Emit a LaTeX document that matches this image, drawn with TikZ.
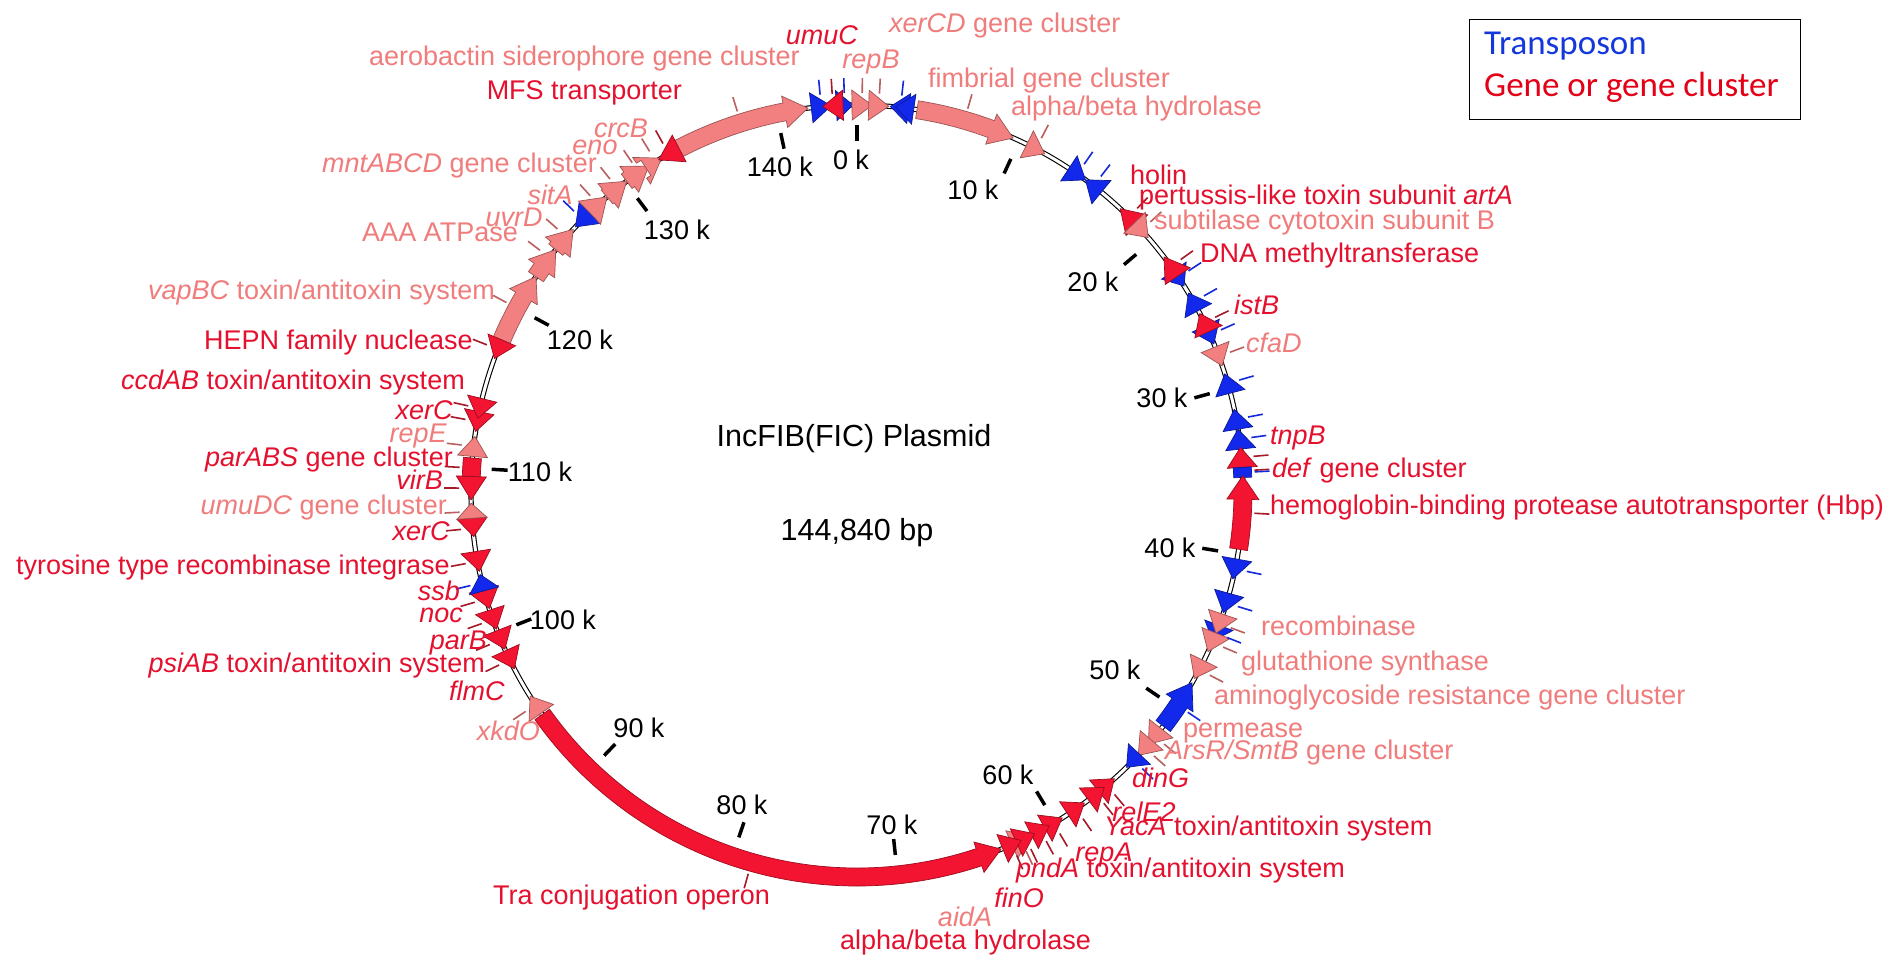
\documentclass[tikz,border=0pt]{standalone}
\usepackage{fontspec}
\setmainfont{Liberation Sans}
\newfontfamily\legfont{Carlito}
\definecolor{gred}{RGB}{242,20,48}
\definecolor{gsal}{RGB}{242,128,128}
\definecolor{gblue}{RGB}{18,40,235}
\definecolor{tred}{RGB}{228,16,46}
\definecolor{tsal}{RGB}{240,124,124}
\definecolor{pred}{RGB}{165,25,40}
\definecolor{psal}{RGB}{185,95,95}
\definecolor{pblue}{RGB}{20,40,220}
\definecolor{legblue}{RGB}{20,55,220}
\definecolor{legred}{RGB}{228,0,22}
\newcommand{\KB}{2.48550}
\newcommand{\garc}[3]{%
  \pgfmathsetmacro{\fTa}{-90+\KB*(#2)}%
  \pgfmathsetmacro{\fPa}{-90+\KB*(#3)}%
  \pgfmathsetmacro{\fHa}{\fPa+ifthenelse((#2)>(#3),3.5,-3.5)}%
  \filldraw[feat=#1] (\fTa:377) arc[start angle=\fTa,end angle=\fHa,radius=377] -- (\fHa:370) -- (\fPa:386) -- (\fHa:402) -- (\fHa:395) arc[start angle=\fHa,end angle=\fTa,radius=395] -- cycle;}
\newcommand{\gtri}[3]{%
  \pgfmathsetmacro{\fTa}{-90+\KB*(#2)}%
  \pgfmathsetmacro{\fPa}{-90+\KB*(#3)}%
  \filldraw[feat=#1] (\fTa:371) -- (\fPa:386) -- (\fTa:401) -- cycle;}
\newcommand{\gband}[3]{%
  \pgfmathsetmacro{\fTa}{-90+\KB*(#2)}%
  \pgfmathsetmacro{\fPa}{-90+\KB*(#3)}%
  \filldraw[feat=#1] (\fTa:377) arc[start angle=\fTa,end angle=\fPa,radius=377] -- (\fPa:395) arc[start angle=\fPa,end angle=\fTa,radius=395] -- cycle;}
\newcommand{\gptr}[2]{%
  \pgfmathsetmacro{\fMa}{-90+\KB*(#2)}%
  \draw[#1,line width=1.6pt] (\fMa:398) -- (\fMa:413);}
\newcommand{\gtick}[1]{%
  \pgfmathsetmacro{\fMa}{-90+\KB*(#1)}%
  \draw[line width=3.5pt] (\fMa:350) -- (\fMa:366);}
\tikzset{
  feat/.style={fill=#1, draw=#1!65!black, line width=0.7pt, line join=miter},
  lab/.style={font=\fontsize{27}{30}\selectfont, inner sep=0pt},
  tlab/.style={font=\fontsize{27}{30}\selectfont, inner sep=0pt, text=black},
}
\begin{document}
\begin{tikzpicture}[x=1pt,y=-1pt]
\fill[white] (0,0) rectangle (1901,979);
\useasboundingbox (0,0) rectangle (1901,979);
\begin{scope}[shift={(857,491)}]
  \draw[line width=1.1pt, double=white, double distance=3pt] (0,0) circle[radius=386];
  \foreach \k in {0,10,...,140} {\gtick{\k}}
  % top
  \garc{gsal}{133.6}{141.9}
  \gtri{gblue}{142.1}{143.3}
  \gtri{gblue}{143.6}{144.6}
  \gtri{gred}{144.0}{142.8}
  \gtri{gsal}{-0.3}{0.9}
  \gtri{gsal}{0.7}{1.9}
  \gtri{gblue}{3.1}{2.0}
  \gtri{gblue}{3.4}{2.3}
  \garc{gsal}{3.6}{9.6}
  \gtri{gsal}{10.5}{11.7}
  \gtri{gblue}{13.4}{14.6}
  \gtri{gblue}{15.8}{14.6}
  \gtri{gred}{18.7}{17.3}
  \gtri{gsal}{18.5}{19.7}
  \gtri{gblue}{22.2}{23.3}
  \gtri{gred}{22.6}{21.2}
  \gtri{gblue}{25.0}{23.8}
  \gtri{gblue}{26.0}{27.2}
  \gtri{gred}{26.4}{25.2}
  \gtri{gsal}{27.4}{28.6}
  \gtri{gblue}{30.3}{29.1}
  \gtri{gblue}{32.5}{31.3}
  \gtri{gblue}{33.7}{32.5}
  \gtri{gred}{34.8}{33.6}
  \gband{gblue}{34.8}{35.4}
  \garc{gred}{39.7}{35.3}
  \gtri{gblue}{40.3}{41.5}
  \gtri{gblue}{42.4}{43.6}
  \gtri{gblue}{44.4}{45.4}
  \gtri{gsal}{43.7}{44.9}
  \gtri{gsal}{44.9}{46.1}
  \gtri{gsal}{46.7}{47.9}
  \garc{gblue}{51.3}{48.2}
  \gtri{gsal}{51.5}{52.7}
  \gtri{gsal}{52.4}{53.6}
  \gtri{gblue}{53.5}{54.6}
  \gtri{gred}{56.8}{55.6}
  \gtri{gred}{57.6}{56.4}
  \gtri{gred}{59.1}{57.9}
  \gtri{gred}{60.7}{59.5}
  \gtri{gred}{61.6}{60.4}
  \gtri{gsal}{62.9}{61.7}
  \gtri{gred}{62.6}{61.4}
  \garc{gred}{94.4}{63.6}
  \gtri{gred}{63.5}{62.3}
  % left
  \gtri{gsal}{94.5}{95.7}
  \gtri{gred}{98.8}{97.6}
  \gtri{gred}{100.1}{98.9}
  \gtri{gred}{101.4}{100.2}
  \gtri{gred}{102.7}{101.5}
  \gtri{gblue}{102.6}{103.6}
  \gtri{gred}{105.0}{103.8}
  \gtri{gred}{107.0}{105.9}
  \gtri{gsal}{107.0}{107.9}
  \gtri{gred}{109.5}{108.1}
  \gband{gred}{109.5}{110.6}
  \gtri{gsal}{110.7}{111.9}
  \gtri{gred}{113.4}{112.2}
  \gtri{gred}{114.2}{113.0}
  \garc{gsal}{117.9}{122.2}
  \gtri{gred}{117.9}{116.7}
  \garc{gsal}{122.2}{124.2}
  \garc{gsal}{124.2}{125.8}
  \gtri{gblue}{127.2}{126.0}
  \garc{gsal}{127.2}{128.6}
  \garc{gsal}{128.6}{130.1}
  \garc{gsal}{130.1}{131.7}
  \garc{gsal}{131.5}{132.6}
  \gtri{gred}{133.8}{132.4}
  % pointers
  \foreach \p in {137.8,6.5,11.1,19.1,28.0,44.3,45.5,47.3,52.1,53.0,62.3,95.1,107.4,111.3,120.0,123.6,125.2,127.9,129.4,131.0,132.2,0.3,1.3} {\gptr{psal}{\p}}
  \foreach \p in {143.4,18.0,21.9,25.8,34.2,35.0,37.5,56.2,57.0,58.5,60.1,61.0,62.0,62.9,78.8,98.2,99.5,100.8,102.1,104.4,106.4,108.8,110.0,112.8,113.6,117.3,133.1} {\gptr{pred}{\p}}
  \foreach \p in {142.7,144.1,2.6,14.0,15.2,22.7,24.4,26.6,29.7,31.9,33.1,35.1,40.9,43.0,44.9,49.8,54.0,103.1,126.6} {\gptr{pblue}{\p}}
\end{scope}
% tick labels
\node[tlab] (k0) at (851,160) {0 k};
\node[tlab] (k10) at (973,190) {10 k};
\node[tlab] (k20) at (1093,282) {20 k};
\node[tlab] (k30) at (1162,398) {30 k};
\node[tlab] (k40) at (1170,548) {40 k};
\node[tlab] (k50) at (1115,670) {50 k};
\node[tlab] (k60) at (1008,775) {60 k};
\node[tlab] (k70) at (892,825) {70 k};
\node[tlab] (k80) at (742,805) {80 k};
\node[tlab] (k90) at (639,728) {90 k};
\node[tlab] (k100) at (563,620) {100 k};
\node[tlab] (k110) at (540,472) {110 k};
\node[tlab] (k120) at (580,340) {120 k};
\node[tlab] (k130) at (677,230) {130 k};
\node[tlab] (k140) at (780,167) {140 k};
% centre
\node[font=\fontsize{30.5}{34}\selectfont] (title) at (854,439) {IncFIB(FIC) Plasmid};
\node[font=\fontsize{30.5}{34}\selectfont] (size) at (857,533) {144,840 bp};
% labels top / left
\node[lab,text=tred] (Lumuc) at (822,35) {\textit{umuC}};
\node[lab,text=tsal,anchor=mid west] (Lxercd) at (889,30) {\textit{xerCD} gene cluster};
\node[lab,text=tsal,anchor=mid east] (Laero) at (800,63) {aerobactin siderophore gene cluster};
\node[lab,text=tsal] (Lrepb) at (871,62) {\textit{repB}};
\node[lab,text=tsal,anchor=mid west] (Lfimb) at (928,85) {fimbrial gene cluster};
\node[lab,text=tred,anchor=mid east] (Lmfs) at (682,97) {MFS transporter};
\node[lab,text=tsal] (Lcrcb) at (621,128) {\textit{crcB}};
\node[lab,text=tsal] (Leno) at (595,147) {\textit{eno}};
\node[lab,text=tsal,anchor=mid east] (Lmnt) at (597,170) {\textit{mntABCD} gene cluster};
\node[lab,text=tsal] (Lsita) at (550,195) {\textit{sitA}};
\node[lab,text=tsal] (Luvrd) at (514,217) {\textit{uvrD}};
\node[lab,text=tsal,anchor=mid east] (Laaa) at (518,239) {AAA ATPase};
\node[lab,text=tsal,anchor=mid east] (Lvap) at (495,297) {\textit{vapBC} toxin/antitoxin system};
\node[lab,text=tred,anchor=mid east] (Lhepn) at (473,347) {HEPN family nuclease};
\node[lab,text=tred,anchor=mid east] (Lccd) at (465,387) {\textit{ccdAB} toxin/antitoxin system};
\node[lab,text=tred,anchor=mid east] (Lxerc1) at (453,417) {\textit{xerC}};
\node[lab,text=tsal,anchor=mid east] (Lrepe) at (447,440) {\textit{repE}};
\node[lab,text=tred,anchor=mid east] (Lpar) at (453,464) {\textit{parABS} gene cluster};
\node[lab,text=tred,anchor=mid east] (Lvirb) at (443,487) {\textit{virB}};
\node[lab,text=tsal,anchor=mid east] (Lumudc) at (447,512) {\textit{umuDC} gene cluster};
\node[lab,text=tred,anchor=mid east] (Lxerc2) at (450,538) {\textit{xerC}};
\node[lab,text=tred,anchor=mid east] (Ltyr) at (450,572) {tyrosine type recombinase integrase};
\node[lab,text=tred,anchor=mid east] (Lssb) at (460,598) {\textit{ssb}};
\node[lab,text=tred,anchor=mid east] (Lnoc) at (463,620) {\textit{noc}};
\node[lab,text=tred,anchor=mid east] (Lparb) at (487,647) {\textit{parB}};
\node[lab,text=tred,anchor=mid east] (Lpsi) at (485,670) {\textit{psiAB} toxin/antitoxin system};
\node[lab,text=tred,anchor=mid east] (Lflmc) at (505,698) {\textit{flmC}};
\node[lab,text=tsal,anchor=mid east] (Lxkdo) at (540,738) {\textit{xkdO}};
% bottom
\node[lab,text=tred,anchor=mid west] (Ltra) at (493,902) {Tra conjugation operon};
\node[lab,text=tred,anchor=mid west] (Lab2) at (840,947) {alpha/beta hydrolase};
\node[lab,text=tsal] (Laida) at (965,917) {\textit{aidA}};
\node[lab,text=tred] (Lfino) at (1019,898) {\textit{finO}};
\node[lab,text=tred,anchor=mid west] (Lpnda) at (1016,875) {\textit{pndA} toxin/antitoxin system};
\node[lab,text=tred] (Lrepa) at (1104,855) {\textit{repA}};
\node[lab,text=tred,anchor=mid west] (Lyaca) at (1104,833) {\textit{YacA} toxin/antitoxin system};
\node[lab,text=tred] (Lrele) at (1144,812) {\textit{relE2}};
\node[lab,text=tred,anchor=mid west] (Lding) at (1132,785) {\textit{dinG}};
% right
\node[lab,text=tsal,anchor=mid west] (Lars) at (1165,757) {\textit{ArsR/SmtB} gene cluster};
\node[lab,text=tsal,anchor=mid west] (Lperm) at (1183,735) {permease};
\node[lab,text=tsal,anchor=mid west] (Lamino) at (1214,702) {aminoglycoside resistance gene cluster};
\node[lab,text=tsal,anchor=mid west] (Lglut) at (1241,668) {glutathione synthase};
\node[lab,text=tsal,anchor=mid west] (Lrecomb) at (1261,633) {recombinase};
\node[lab,text=tred,anchor=mid west] (Lhbp) at (1270,512) {hemoglobin-binding protease autotransporter (Hbp)};
\node[lab,text=tred,anchor=mid west] (Ldef) at (1272,475) {\textit{def} gene cluster};
\node[lab,text=tred,anchor=mid west] (Ltnpb) at (1270,442) {\textit{tnpB}};
\node[lab,text=tsal,anchor=mid west] (Lcfad) at (1246,350) {\textit{cfaD}};
\node[lab,text=tred,anchor=mid west] (Listb) at (1234,312) {\textit{istB}};
\node[lab,text=tred,anchor=mid west] (Ldna) at (1200,260) {DNA methyltransferase};
\node[lab,text=tsal,anchor=mid west] (Lsubt) at (1154,227) {subtilase cytotoxin subunit B};
\node[lab,text=tred,anchor=mid west] (Lpert) at (1139,202) {pertussis-like toxin subunit \textit{artA}};
\node[lab,text=tred,anchor=mid west] (Lholin) at (1130,182) {holin};
\node[lab,text=tsal,anchor=mid west] (Lab1) at (1011,113) {alpha/beta hydrolase};
% legend
\node[draw, line width=1.2pt, minimum width=331pt, minimum height=100pt, anchor=north west, inner sep=0pt] (legbox) at (1469,19) {};
\node[anchor=mid west, inner sep=0pt, font=\legfont\fontsize{35}{40}\selectfont, text=legblue] (legT) at (1484,52) {Transposon};
\node[anchor=mid west, inner sep=0pt, font=\legfont\fontsize{35}{40}\selectfont, text=legred] (legG) at (1484,94) {Gene or gene cluster};
\end{tikzpicture}
\end{document}
